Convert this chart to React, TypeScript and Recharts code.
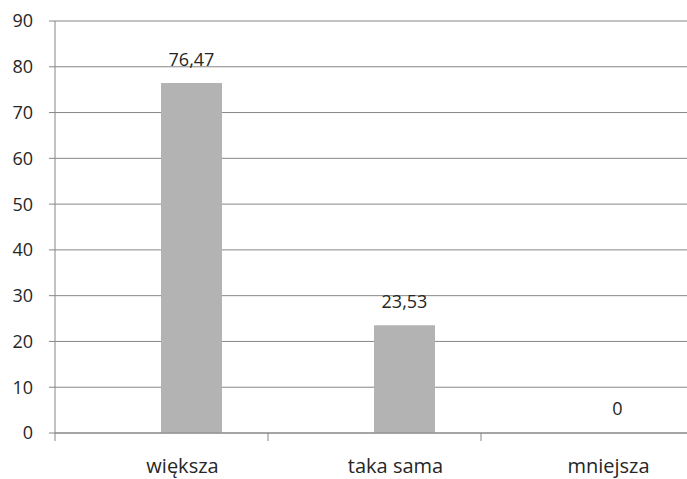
import { Bar, BarChart, CartesianGrid, Cell, LabelList, XAxis, YAxis } from 'recharts';

const categories = ['większa', 'taka sama', 'mniejsza'];
const values = [76.47, 23.53, 0];
const yTicks = [0, 10, 20, 30, 40, 50, 60, 70, 80, 90];

const data = categories.map((name, i) => ({ name, value: values[i] }));

const AXIS = '#868686';
const TEXT = '#262626';
const BAR = '#b3b3b3';
const FONT = '"Open Sans", sans-serif';

function CategoryTick(props: any) {
  const { x, y, payload } = props;
  const half = payload?.offset ?? 106.5;
  const boundary = x - half - 30;
  return (
    <g>
      <line x1={boundary} y1={y} x2={boundary} y2={y + 8} stroke={AXIS} strokeWidth={1} />
      <text x={x - 9} y={y + 40} textAnchor="middle" fill={TEXT} fontSize={20} fontFamily={FONT}>
        {payload.value}
      </text>
    </g>
  );
}

export default function App() {
  return (
    <div
      style={{
        position: 'absolute',
        left: 0,
        top: 0,
        width: 687,
        height: 479,
        overflow: 'hidden',
        background: '#fff',
      }}
    >
      <BarChart
        width={724}
        height={479}
        data={data}
        margin={{ top: 21, right: 0, bottom: 0, left: 0 }}
      >
        <CartesianGrid vertical={false} stroke={AXIS} strokeWidth={1} />
        <XAxis
          dataKey="name"
          height={46}
          padding={{ left: 30, right: 0 }}
          axisLine={{ stroke: AXIS, strokeWidth: 1 }}
          tickLine={false}
          tickSize={0}
          tickMargin={0}
          tick={<CategoryTick />}
          interval={0}
        />
        <YAxis
          width={55}
          domain={[0, 90]}
          ticks={yTicks}
          interval={0}
          axisLine={{ stroke: AXIS, strokeWidth: 1 }}
          tickLine={{ stroke: AXIS, strokeWidth: 1 }}
          tickSize={6}
          tickMargin={16}
          tick={{ fill: TEXT, fontSize: 18, fontFamily: FONT }}
        />
        <Bar dataKey="value" fill={BAR} barSize={61} minPointSize={1} isAnimationActive={false}>
          {data.map((d) => (
            <Cell key={d.name} fill={d.value === 0 ? 'transparent' : BAR} />
          ))}
          <LabelList
            dataKey="value"
            position="top"
            offset={17}
            fill={TEXT}
            fontSize={18}
            fontFamily={FONT}
            formatter={(v: any) => String(v).replace('.', ',')}
          />
        </Bar>
      </BarChart>
    </div>
  );
}
